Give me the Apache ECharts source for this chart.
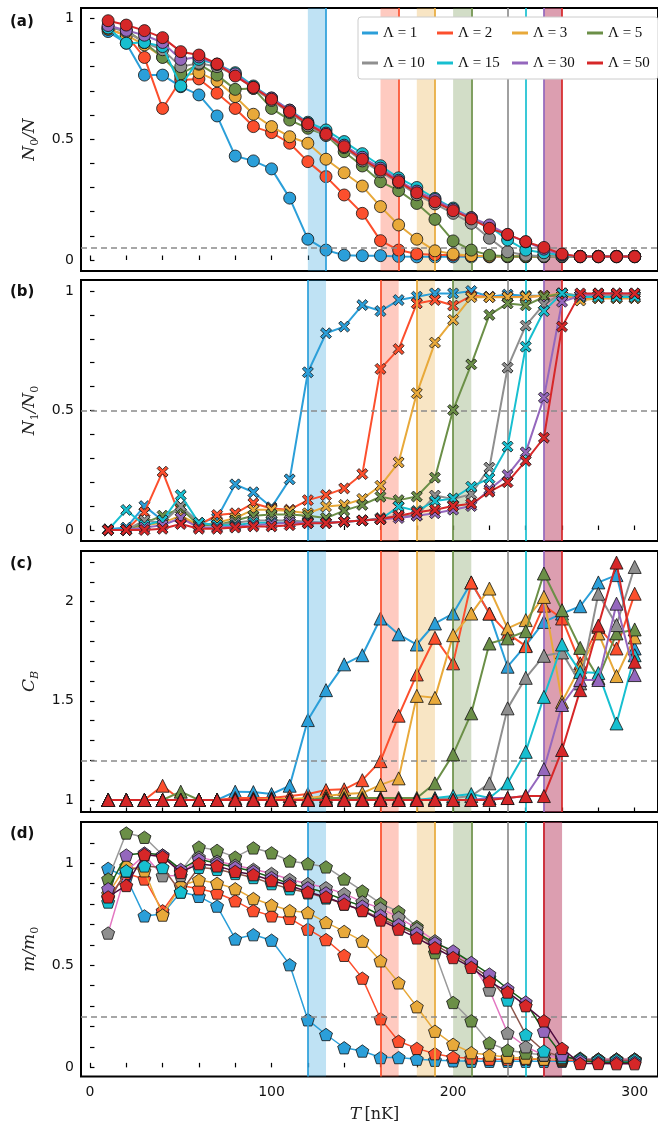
<!DOCTYPE html>
<html>
<head>
<meta charset="utf-8">
<script src="https://cdn.jsdelivr.net/npm/echarts@6/dist/echarts.min.js"></script>
<style>html,body{margin:0;padding:0;background:#fff}#c{width:658px;height:1124px}</style>
</head>
<body>
<div id="c"></div>
<script>
// ---------- data ----------
const T = [10,20,30,40,50,60,70,80,90,100,110,120,130,140,150,160,170,180,190,200,210,220,230,240,250,260,270,280,290,300];
const names = ['Λ = 1','Λ = 2','Λ = 3','Λ = 5','Λ = 10','Λ = 15','Λ = 30','Λ = 50'];

// (a) N0/N
const a_L1  = [0.945,0.897,0.765,0.765,0.717,0.683,0.596,0.43,0.41,0.377,0.256,0.086,0.041,0.02,0.018,0.018,0.015,0.013,0.013,0.013,0.013,0.013,0.013,0.013,0.013,0.013,0.013,0.013,0.013,0.013];
const a_L2  = [0.955,0.93,0.838,0.627,0.745,0.749,0.69,0.627,0.552,0.527,0.483,0.407,0.345,0.269,0.193,0.08,0.041,0.025,0.022,0.02,0.018,0.016,0.015,0.015,0.015,0.015,0.015,0.015,0.015,0.015];
const a_L3  = [0.955,0.93,0.89,0.84,0.761,0.775,0.741,0.676,0.603,0.552,0.51,0.483,0.417,0.361,0.306,0.221,0.145,0.086,0.038,0.025,0.018,0.015,0.015,0.015,0.015,0.015,0.015,0.015,0.015,0.015];
const a_L5  = [0.96,0.95,0.9,0.838,0.77,0.81,0.765,0.706,0.71,0.627,0.579,0.545,0.517,0.448,0.389,0.324,0.287,0.234,0.168,0.079,0.041,0.02,0.016,0.015,0.015,0.015,0.015,0.015,0.015,0.015];
const a_L10 = [0.965,0.945,0.9,0.87,0.8,0.814,0.8,0.765,0.71,0.66,0.61,0.555,0.515,0.465,0.41,0.365,0.32,0.27,0.232,0.193,0.152,0.09,0.034,0.02,0.016,0.015,0.014,0.014,0.014,0.014];
const a_L15 = [0.96,0.897,0.9,0.883,0.72,0.83,0.81,0.775,0.72,0.67,0.62,0.57,0.538,0.49,0.44,0.39,0.34,0.3,0.255,0.215,0.175,0.14,0.083,0.041,0.03,0.02,0.015,0.015,0.015,0.015];
const a_L30 = [0.97,0.95,0.93,0.9,0.83,0.84,0.81,0.77,0.715,0.67,0.62,0.565,0.525,0.475,0.425,0.38,0.33,0.285,0.25,0.21,0.175,0.145,0.105,0.075,0.045,0.022,0.015,0.015,0.015,0.015];
const a_L50 = [0.99,0.972,0.949,0.92,0.862,0.848,0.811,0.761,0.714,0.665,0.614,0.563,0.52,0.469,0.417,0.372,0.324,0.278,0.241,0.204,0.17,0.131,0.106,0.076,0.052,0.025,0.014,0.014,0.014,0.014];

// (b) N1/N0
const b_L1  = [0.003,0.01,0.1,0.04,0.1,0.03,0.05,0.191,0.158,0.095,0.212,0.66,0.823,0.851,0.941,0.916,0.962,0.976,0.99,0.99,1.0,0.976,0.985,0.98,0.98,0.98,0.98,0.98,0.98,0.98];
const b_L2  = [0,0,0.074,0.244,0.05,0.02,0.063,0.07,0.112,0.09,0.085,0.125,0.146,0.174,0.234,0.674,0.757,0.948,0.962,0.939,0.98,0.975,0.975,0.975,0.98,0.98,0.97,0.97,0.97,0.97];
const b_L3  = [0,0,0.02,0.03,0.06,0.02,0.03,0.05,0.085,0.085,0.08,0.07,0.098,0.105,0.13,0.185,0.283,0.572,0.784,0.879,0.974,0.974,0.974,0.975,0.98,0.99,0.96,0.97,0.97,0.97];
const b_L5  = [0,0,0.03,0.06,0.09,0.02,0.02,0.04,0.06,0.065,0.065,0.06,0.05,0.081,0.105,0.139,0.125,0.14,0.219,0.502,0.693,0.9,0.948,0.94,0.975,0.99,0.98,0.98,0.98,0.98];
const b_L10 = [0,0,0.04,0.03,0.1,0.03,0.02,0.03,0.04,0.04,0.04,0.035,0.03,0.035,0.04,0.05,0.06,0.06,0.144,0.13,0.15,0.261,0.679,0.855,0.944,0.99,0.98,0.98,0.98,0.98];
const b_L15 = [0,0.084,0.02,0.04,0.146,0.03,0.02,0.02,0.03,0.03,0.03,0.03,0.03,0.035,0.04,0.045,0.098,0.08,0.121,0.132,0.181,0.216,0.349,0.767,0.916,0.99,0.975,0.975,0.975,0.975];
const b_L30 = [0,0,0.01,0.02,0.05,0.01,0.01,0.015,0.02,0.025,0.03,0.03,0.03,0.035,0.04,0.045,0.05,0.06,0.07,0.085,0.1,0.17,0.23,0.325,0.554,0.955,0.98,0.99,0.99,0.99];
const b_L50 = [0,0,0,0.005,0.025,0.005,0.005,0.01,0.015,0.015,0.02,0.028,0.028,0.035,0.04,0.045,0.06,0.074,0.085,0.1,0.11,0.16,0.2,0.289,0.386,0.851,0.99,0.99,0.99,0.99];

// (c) C_B
const c_L1  = [1,1,1,1,1,1,1,1.042,1.04,1.03,1.072,1.403,1.554,1.684,1.73,1.915,1.835,1.784,1.89,1.94,2.097,1.94,1.672,1.78,1.898,1.94,1.977,2.097,2.134,1.764];
const c_L2  = [1,1,1,1.072,1,1,1,1.01,1.01,1.01,1.02,1.03,1.05,1.054,1.1,1.196,1.425,1.633,1.818,1.689,2.097,1.94,1.84,1.776,1.98,1.915,1.689,1.873,1.764,2.04];
const c_L3  = [1,1,1,1,1,1,1,1,1,1.005,1.005,1.01,1.02,1.03,1.035,1.076,1.109,1.525,1.515,1.831,1.94,2.066,1.865,1.907,2.024,1.495,1.67,1.84,1.625,1.82];
const c_L5  = [1,1,1,1,1.042,1,1,1,1,1,1,1,1.01,1.01,1.01,1.01,1.01,1.01,1.084,1.23,1.437,1.789,1.815,1.851,2.142,1.957,1.767,1.615,1.84,1.86];
const c_L10 = [1,1,1,1,1,1,1,1,1,1,1,1,1,1,1,1,1,1,1.005,1.01,1.02,1.084,1.462,1.616,1.727,1.744,1.588,2.04,1.882,2.175];
const c_L15 = [1,1,1,1,1,1,1,1,1,1,1,1,1,1,1,1,1,1,1.01,1.02,1.03,1.01,1.084,1.243,1.52,1.784,1.646,1.64,1.386,1.73];
const c_L30 = [1,1,1,1,1,1,1,1,1,1,1,1,1,1,1,1,1,1,1,1,1,1.01,1.01,1.02,1.156,1.479,1.605,1.605,1.99,1.63];
const c_L50 = [1,1,1,1,1,1,1,1,1,1,1,1,1,1,1,1,1,1,1,1,1,1,1.01,1.02,1.02,1.252,1.554,1.88,2.197,1.697];

// (d) m/m0
const d_L1  = [0.975,0.93,0.742,0.751,0.859,0.838,0.79,0.629,0.65,0.623,0.503,0.233,0.161,0.096,0.08,0.048,0.048,0.04,0.035,0.032,0.03,0.03,0.03,0.03,0.03,0.03,0.03,0.03,0.03,0.03];
const d_L2  = [0.83,0.95,0.923,0.767,0.891,0.875,0.854,0.816,0.768,0.742,0.73,0.677,0.626,0.549,0.437,0.238,0.128,0.093,0.067,0.05,0.045,0.04,0.04,0.04,0.04,0.035,0.035,0.035,0.035,0.035];
const d_L3  = [0.85,0.987,0.963,0.746,0.89,0.918,0.902,0.875,0.827,0.795,0.768,0.758,0.71,0.666,0.618,0.522,0.414,0.297,0.177,0.113,0.072,0.06,0.05,0.045,0.04,0.04,0.04,0.04,0.04,0.04];
const d_L5  = [0.923,1.148,1.127,1.04,0.96,1.079,1.063,1.03,1.075,1.051,1.011,0.998,0.982,0.923,0.864,0.803,0.763,0.69,0.562,0.318,0.228,0.12,0.084,0.07,0.06,0.05,0.045,0.04,0.04,0.04];
const d_L10 = [0.658,0.96,1.04,0.939,0.94,1.03,1.01,0.99,0.97,0.95,0.92,0.9,0.88,0.851,0.811,0.779,0.735,0.68,0.62,0.56,0.51,0.379,0.168,0.101,0.06,0.045,0.04,0.04,0.04,0.04];
const d_L15 = [0.81,0.963,0.987,0.979,0.859,0.98,0.97,0.95,0.93,0.9,0.875,0.855,0.83,0.8,0.77,0.73,0.69,0.65,0.6,0.55,0.5,0.44,0.33,0.16,0.08,0.05,0.04,0.035,0.035,0.035];
const d_L30 = [0.875,1.04,1.05,1.04,0.97,1.02,1.0,0.98,0.96,0.93,0.9,0.88,0.855,0.82,0.79,0.745,0.7,0.658,0.61,0.57,0.514,0.457,0.385,0.32,0.177,0.06,0.032,0.025,0.025,0.025];
const d_L50 = [0.835,0.891,1.043,1.032,0.955,0.998,0.987,0.96,0.944,0.915,0.891,0.859,0.835,0.8,0.768,0.722,0.677,0.634,0.586,0.538,0.49,0.421,0.369,0.302,0.228,0.093,0.019,0.019,0.018,0.018];

// transition bands and vertical markers (nK)
const bandLo = [120,160,180,200,null,null,250,250];
const bandHi = [130,170,190,210,null,null,260,260];
const vlineA = [130,170,190,210,230,240,250,260];
const vlineB = [120,160,180,200,230,240,250,260];
const vlineC = [120,160,180,200,230,240,250,260];
const vlineD = [120,160,190,210,230,240,250,250];
const thresholds = [0.05, 0.5, 1.2, 0.25];

// tick values
const xTicks = [0,20,40,60,80,100,120,140,160,180,200,220,240,260,280,300];
const xLabels = [0,100,200,300];
const yTicks01 = [0,0.1,0.2,0.3,0.4,0.5,0.6,0.7,0.8,0.9,1.0];
const yTicksC = [1.0,1.1,1.2,1.3,1.4,1.5,1.6,1.7,1.8,1.9,2.0,2.1,2.2];
const yTicksD = [0,0.1,0.2,0.3,0.4,0.5,0.6,0.7,0.8,0.9,1.0,1.1];
const yLabels01 = [0,0.5,1];
const yLabelsC = [1,1.5,2];

// ---------- styling ----------
const colors  = ['#2b9fd9','#fc4f2d','#e8a93a','#6b8f47','#8f8f8f','#17bfd0','#9467bd','#d62728'];
const dLineColors = ['#2b9fd9','#fc4f2d','#e8a93a','#999999','#e377c2','#8c564b','#165c16','#4e0a3e'];

const panels = [
  {vals:[a_L1,a_L2,a_L3,a_L5,a_L10,a_L15,a_L30,a_L50], sym:'circle', size:12, vl:vlineA,
   grid:{left:81,top:8,width:579,height:263}, ymin:-0.0455, ymax:1.0426, yt:yTicks01, yl:yLabels01,
   name:'{i|N}{s|0}{i|/N}', label:'(a)', ly:15},
  {vals:[b_L1,b_L2,b_L3,b_L5,b_L10,b_L15,b_L30,b_L50], sym:'path://M20,0 L50,30 L80,0 L100,20 L70,50 L100,80 L80,100 L50,70 L20,100 L0,80 L30,50 L0,20 Z', size:11, vl:vlineB,
   grid:{left:81,top:280,width:579,height:261}, ymin:-0.046, ymax:1.046, yt:yTicks01, yl:yLabels01,
   name:'{i|N}{s|1}{i|/N}{s|0}', label:'(b)', ly:285},
  {vals:[c_L1,c_L2,c_L3,c_L5,c_L10,c_L15,c_L30,c_L50], sym:'triangle', size:13, vl:vlineC,
   grid:{left:81,top:551,width:579,height:261}, ymin:0.9395, ymax:2.2555, yt:yTicksC, yl:yLabelsC,
   name:'{i|C}{si|B}', label:'(c)', ly:557},
  {vals:[d_L1,d_L2,d_L3,d_L5,d_L10,d_L15,d_L30,d_L50], sym:'path://M50,0 L97.6,34.5 L79.4,90.5 L20.6,90.5 L2.4,34.5 Z', size:13, vl:vlineD,
   grid:{left:81,top:822,width:579,height:259}, ymin:-0.0448, ymax:1.202, yt:yTicksD, yl:yLabels01,
   name:'{i|m/m}{s|0}', label:'(d)', ly:827}
];

const rich = {
  i:{fontFamily:'DejaVu Serif', fontStyle:'italic', fontSize:17, lineHeight:22, color:'#222'},
  s:{fontFamily:'DejaVu Serif', fontSize:11, lineHeight:12, verticalAlign:'bottom', color:'#222'},
  si:{fontFamily:'DejaVu Serif', fontStyle:'italic', fontSize:11, lineHeight:12, verticalAlign:'bottom', color:'#222'},
  u:{fontFamily:'DejaVu Serif', fontSize:16, lineHeight:22, color:'#222'}
};

const grids = [], xAxes = [], yAxes = [], series = [], graphics = [];
panels.forEach((p, pi) => {
  grids.push(Object.assign({show:true, borderColor:'#000', borderWidth:2, backgroundColor:'transparent'}, p.grid));
  const last = pi === 3;
  xAxes.push({
    type:'value', gridIndex:pi, min:-4.94, max:312.84,
    axisLine:{show:false}, splitLine:{show:false},
    axisTick:{show:true, inside:true, length:4.5, customValues:xTicks, lineStyle:{color:'#000', width:1.2}},
    axisLabel:{show:last, customValues:xLabels, margin:9, fontFamily:'DejaVu Sans', fontSize:14, color:'#111'},
    name: last ? '{i|T} {u|[nK]}' : '', nameLocation:'middle', nameGap:27,
    nameTextStyle:{rich: rich, padding:[0,0,0,10]}
  });
  yAxes.push({
    type:'value', gridIndex:pi, min:p.ymin, max:p.ymax,
    axisLine:{show:false}, splitLine:{show:false},
    axisTick:{show:true, inside:true, length:4.5, customValues:p.yt, lineStyle:{color:'#000', width:1.2}},
    axisLabel:{customValues:p.yl, margin:7, fontFamily:'DejaVu Sans', fontSize:14, color:'#111'},
    name:p.name, nameLocation:'middle', nameGap:36, nameRotate:90,
    nameTextStyle:{rich: rich}
  });
  // bands + vertical lines
  const areas = [];
  for (let i = 0; i < 8; i++) {
    if (bandLo[i] !== null) areas.push([{xAxis:bandLo[i], itemStyle:{color:colors[i], opacity:0.3}}, {xAxis:bandHi[i]}]);
  }
  const vls = p.vl.map((x, i) => ({xAxis:x, lineStyle:{color:colors[i], width:2, type:'solid', opacity:0.85}}));
  series.push({
    type:'line', xAxisIndex:pi, yAxisIndex:pi, data:[], silent:true, z:1,
    markArea:{silent:true, data:areas},
    markLine:{silent:true, symbol:'none', label:{show:false}, data:vls, animation:false}
  });
  series.push({
    type:'line', xAxisIndex:pi, yAxisIndex:pi, data:[], silent:true, z:2,
    markLine:{silent:true, symbol:'none', label:{show:false}, animation:false,
      data:[{yAxis:thresholds[pi], lineStyle:{color:'#8a8a8a', width:1.6, type:[6,4]}}]}
  });
  p.vals.forEach((arr, i) => {
    series.push({
      type:'line', name:names[i], xAxisIndex:pi, yAxisIndex:pi,
      data:T.map((t, k) => [t, arr[k]]),
      symbol:p.sym, symbolSize:p.size, symbolKeepAspect:true, showSymbol:true, showAllSymbol:true,
      lineStyle:{color: pi === 3 ? dLineColors[i] : colors[i], width: pi === 3 ? 1.5 : 2},
      itemStyle:{color:colors[i], borderColor:'#111', borderWidth:0.8},
      emphasis:{disabled:true}, z:3 + i, clip:false
    });
  });
  graphics.push({type:'text', left:10, top:p.ly, style:{text:p.label, fontFamily:'DejaVu Sans', fontWeight:'bold', fontSize:15, fill:'#111'}});
});

const chart = echarts.init(document.getElementById('c'), null, {renderer:'canvas'});
chart.setOption({
  animation:false,
  backgroundColor:'#fff',
  grid:grids, xAxis:xAxes, yAxis:yAxes, series:series, graphic:graphics,
  legend:{
    data:names.map((n, i) => ({name:n, icon:'rect', itemStyle:{color:colors[i], borderWidth:0}})),
    left:358, top:17, width:292, orient:'horizontal',
    itemWidth:16, itemHeight:3, itemGap:10,
    padding:[6,6,6,4], backgroundColor:'#fff', borderColor:'#cccccc', borderWidth:1, borderRadius:3,
    textStyle:{fontFamily:'Liberation Serif', fontSize:15, color:'#111', width:44, lineHeight:20},
    selectedMode:false, z:20
  }
});
</script>
</body>
</html>
